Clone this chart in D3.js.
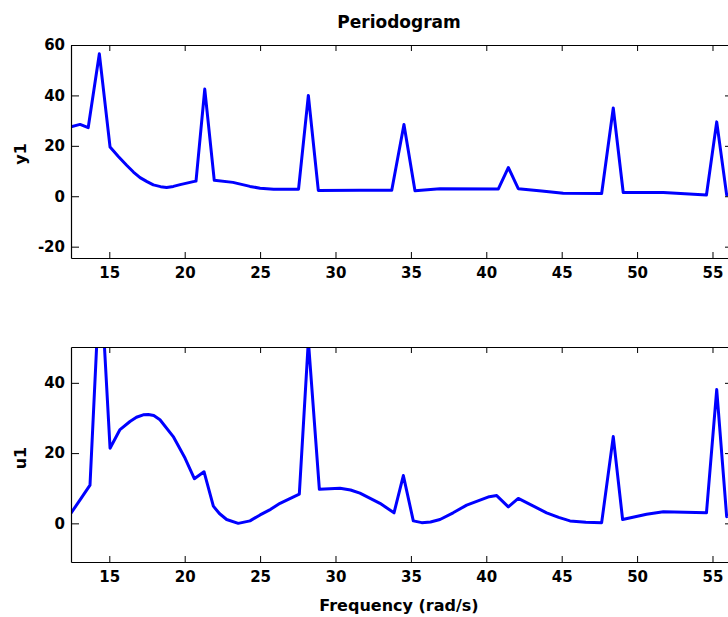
<!DOCTYPE html>
<html>
<head>
<meta charset="utf-8">
<script src="https://cdn.jsdelivr.net/npm/d3@7"></script>
<style>
  body { margin: 0; background: #fff; }
  svg { display: block; overflow: hidden; }
  text { font-family: "DejaVu Sans", sans-serif; font-weight: bold; fill: #000; }
</style>
</head>
<body>
<svg id="chart" width="728" height="617"></svg>
<script>
// periodogram of y1 (top) and u1 (bottom)
const freqY1 = [12.46, 13.06, 13.6, 14.34, 15.05, 15.6, 16.15, 16.6, 17.04, 17.5, 17.92, 18.4, 18.8, 19.25, 19.7, 20.57, 20.75, 21.33, 21.96, 23.2, 24.33,
    25.0, 25.9, 27.55, 28.2, 28.86, 31.6, 33.73, 34.54, 35.27, 36.93, 40.8, 41.46, 42.12, 43.67, 45.1, 47.65,
    48.42, 49.08, 51.74, 54.6, 55.28, 55.94, 56.4];
const y1Values = [27.5, 28.5, 27.2, 56.5, 19.5, 15.8, 12.3, 9.6, 7.4, 5.8, 4.5, 3.8, 3.5, 3.9, 4.6, 5.8, 6.0, 42.5, 6.3, 5.5, 3.9,
    3.2, 2.8, 2.8, 40, 2.3, 2.4, 2.4, 28.5, 2.2, 3.0, 2.9, 11.4, 3.0, 2.1, 1.2, 1.1,
    35, 1.5, 1.5, 0.5, 29.5, 0.5, 1.0];

const freqU1 = [12.46, 13.06, 13.72, 14.4, 15.05, 15.71, 16.37, 16.8, 17.25, 17.59, 17.95, 18.36, 19.24, 20.02, 20.64, 21.28, 21.9, 22.3, 22.78,
    23.55, 24.33, 25.0, 25.7, 26.32, 27.6, 28.2, 28.93, 30.3, 31.0, 31.62, 32.95, 33.88, 34.5, 35.16, 35.72, 36.3, 36.93, 37.8, 38.7,
    40.2, 40.69, 41.46, 42.12, 44.0, 44.8, 45.55, 46.6, 47.65, 48.42, 49.04, 50.63, 51.74, 54.6, 55.28, 55.94, 56.4];
const u1Values = [2.9, 6.7, 10.9, 72, 21.4, 26.7, 29, 30.2, 30.9, 31, 30.7, 29.5, 24.7, 18.6, 12.7, 14.7, 4.9, 2.8, 1.1,
    0, 0.7, 2.4, 4.0, 5.7, 8.3, 52, 9.7, 10, 9.5, 8.6, 5.7, 3, 13.6, 0.7, 0.2, 0.4, 1.1, 3.0, 5.2,
    7.6, 7.9, 4.7, 7.1, 3, 1.7, 0.7, 0.3, 0.2, 24.7, 1.1, 2.6, 3.3, 3.0, 38.1, 1.9, 2.5];

const xTicks = [15, 20, 25, 30, 35, 40, 45, 50, 55];
const y1Ticks = [-20, 0, 20, 40, 60];
const u1Ticks = [0, 20, 40];

const svg = d3.select("#chart");

const x = d3.scaleLinear()
    .domain([12.46, 56.36])
    .range([71, 733]);

function drawPanel(id, freq, values, yDomain, yRange, yTicks, label, labelY) {
    const y = d3.scaleLinear().domain(yDomain).range(yRange);
    const top = yRange[1], bottom = yRange[0];

    svg.append("clipPath").attr("id", "clip-" + id)
        .append("rect")
        .attr("x", x.range()[0]).attr("y", top)
        .attr("width", x.range()[1] - x.range()[0]).attr("height", bottom - top);

    // the line
    const line = d3.line()
        .x(d => x(d[0]))
        .y(d => y(d[1]));

    svg.append("path")
        .datum(d3.zip(freq, values))
        .attr("clip-path", `url(#clip-${id})`)
        .attr("d", line)
        .attr("fill", "none")
        .attr("stroke", "#0000ff")
        .attr("stroke-width", 3)
        .attr("stroke-linejoin", "round");

    // box with inward ticks on all four sides
    const gx = svg.append("g")
        .attr("transform", `translate(0,${bottom})`)
        .call(d3.axisBottom(x).tickValues(xTicks).tickSize(-6).tickSizeOuter(0).tickPadding(9));
    svg.append("g")
        .attr("transform", `translate(0,${top})`)
        .call(d3.axisTop(x).tickValues(xTicks).tickSize(-6).tickSizeOuter(0).tickFormat(""));
    const gy = svg.append("g")
        .attr("transform", `translate(${x.range()[0]},0)`)
        .call(d3.axisLeft(y).tickValues(yTicks).tickSize(-8).tickSizeOuter(0).tickPadding(6)
            .tickFormat(d => String(d)));
    svg.append("g")
        .attr("transform", `translate(${x.range()[1]},0)`)
        .call(d3.axisRight(y).tickValues(yTicks).tickSize(-8).tickSizeOuter(0).tickFormat(""));

    svg.selectAll(".domain").attr("stroke", "#000").attr("stroke-width", 1.2);
    svg.selectAll(".tick line").attr("stroke", "#000");
    gx.selectAll("text").style("font-size", "15px").style("font-family", "DejaVu Sans").style("font-weight", "bold");
    gy.selectAll("text").style("font-size", "15px").style("font-family", "DejaVu Sans").style("font-weight", "bold");

    svg.append("text")
        .attr("transform", `translate(26,${labelY}) rotate(-90)`)
        .attr("text-anchor", "middle")
        .style("font-size", "16px")
        .text(label);
}

drawPanel("y1", freqY1, y1Values, [-24.5, 60], [258, 45], y1Ticks, "y1", 154);
drawPanel("u1", freqU1, u1Values, [-11, 50.2], [562, 347], u1Ticks, "u1", 458);

svg.append("text")
    .attr("x", 399).attr("y", 28)
    .attr("text-anchor", "middle")
    .style("font-size", "17px")
    .text("Periodogram");

svg.append("text")
    .attr("x", 399).attr("y", 611)
    .attr("text-anchor", "middle")
    .style("font-size", "16px")
    .text("Frequency (rad/s)");
</script>
</body>
</html>
